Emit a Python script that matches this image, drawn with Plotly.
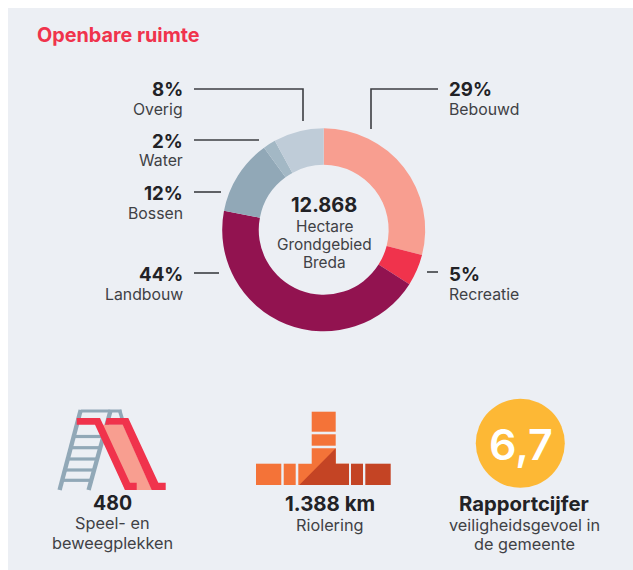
import plotly.graph_objects as go

W, H = 633, 570
FONT = "Inter"
DARK = "#222226"
GREY = "#3f4145"

categories = ["Bebouwd", "Recreatie", "Landbouw", "Bossen", "Water", "Overig"]
values = [29, 5, 44, 12, 2, 8]
slice_colors = ["#F89E90", "#F0334C", "#921350", "#91A8B7", "#A3B8C5", "#BFCCD8"]

title = "Openbare ruimte"
center_total = "12.868"
center_lines = ["Hectare", "Grondgebied", "Breda"]

fig = go.Figure()

CX, CY, R = 323.7, 229.8, 101.5
fig.add_trace(go.Pie(
    labels=categories, values=values, sort=False, direction="clockwise", rotation=0,
    hole=0.64, marker=dict(colors=slice_colors, line=dict(width=0)),
    textinfo="none", hoverinfo="label+percent", showlegend=False,
    domain=dict(x=[(CX - R) / W, (CX + R) / W], y=[1 - (CY + R) / H, 1 - (CY - R) / H]),
))

shapes = []
def rect(x0, y0, x1, y1, color, layer="below"):
    shapes.append(dict(type="rect", x0=x0, y0=y0, x1=x1, y1=y1, fillcolor=color,
                       line=dict(width=0), layer=layer))
def path(pts, color=None, stroke=None, width=0, closed=True):
    d = "M" + " L".join(f"{x},{y}" for x, y in pts) + (" Z" if closed else "")
    shapes.append(dict(type="path", path=d, fillcolor=color if color else "rgba(0,0,0,0)",
                       line=dict(color=stroke if stroke else "rgba(0,0,0,0)", width=width),
                       layer="above"))

# panel
rect(8, 8, 633, 570, "#ECEFF4")

# leader lines
LC = "#3c3e42"
for pts in [[(194, 89), (303, 89), (303, 121)],
            [(438, 89), (371, 89), (371, 129)],
            [(194, 140), (259, 140)],
            [(194, 192), (221, 192)],
            [(194, 273), (219, 273)],
            [(427, 272), (438, 272)]]:
    path(pts, stroke=LC, width=1.6, closed=False)

# ladder
LAD = "#91A8B7"
path([(80.7, 411), (121.5, 411)], stroke=LAD, width=3.2, closed=False)
path([(80.7, 410), (59.6, 490)], stroke=LAD, width=4.4, closed=False)
path([(110.7, 410), (88.6, 490)], stroke=LAD, width=4.4, closed=False)
path([(119.5, 410), (122.5, 420)], stroke=LAD, width=3.6, closed=False)
for y, x0, x1 in [(436.5, 73, 103), (447.7, 70, 100), (459, 67, 97), (470, 65, 94), (480.3, 62, 91)]:
    path([(x0, y), (x1, y)], stroke=LAD, width=3.2, closed=False)

# slide
path([(98, 424.7), (123, 424.7), (152, 490), (125, 490)], color="#F89E90")
RED = "#F0334C"
path([(76.7, 418), (100, 418), (130, 482.7), (136.7, 482.7), (136.7, 490), (125, 490),
      (95, 424.7), (76.7, 424.7)], color=RED)
path([(106.7, 418), (128.3, 418), (158.3, 482.7), (165.7, 482.7), (165.7, 490), (151.7, 490),
      (122.7, 424.7), (105, 424.7)], color=RED)

# pipe
OR, DK = "#F47338", "#C44424"
rect(311.7, 411.7, 335.7, 431.7, OR, "above")
rect(311.7, 434.3, 335.7, 445.7, OR, "above")
path([(311.7, 448.3), (335.7, 448.3), (335.7, 463.7), (349, 463.7), (349, 485),
      (298.3, 485), (298.3, 463.7), (311.7, 463.7)], color=OR)
path([(299.3, 485), (335.7, 448.3), (335.7, 463.7), (349, 463.7), (349, 485)], color=DK)
rect(256, 463.7, 281.3, 485, OR, "above")
rect(283.7, 463.7, 295.7, 485, OR, "above")
rect(351, 463.7, 363, 485, DK, "above")
rect(365.3, 463.7, 390.7, 485, DK, "above")

# badge
shapes.append(dict(type="circle", x0=475.8, x1=564.8, y0=398.8, y1=487.8,
                   fillcolor="#FDB835", line=dict(width=0), layer="above"))

anns = []
def txt(x, y, s, size, color=GREY, bold=False, anchor="center", weight=None):
    anns.append(dict(x=x, y=y, xref="x", yref="y", text=s, showarrow=False, xanchor=anchor,
                     yanchor="middle", xshift=0,
                     font=dict(family=FONT, size=size, color=color,
                               weight=weight if weight else (700 if bold else 400))))

txt(35, 35, title, 19.8, "#F0334C", anchor="left", weight=700)

for pct, name, yp, yn in [("8%", "Overig", 89, 109), ("2%", "Water", 141, 160),
                          ("12%", "Bossen", 193, 213), ("44%", "Landbouw", 274, 294)]:
    txt(185, yp, pct, 18.7, DARK, True, "right")
    txt(185, yn, name, 15.8, GREY, False, "right")
for pct, name, yp, yn in [("29%", "Bebouwd", 89, 109), ("5%", "Recreatie", 274, 294)]:
    txt(447, yp, pct, 18.7, DARK, True, "left")
    txt(447, yn, name, 15.8, GREY, False, "left")

txt(324, 205, center_total, 20, DARK, True)
for s, y in zip(center_lines, [226, 244, 262]):
    txt(324, y, s, 15.4)

txt(112, 503, "480", 19.5, DARK, True)
txt(112, 523, "Speel- en", 16.3)
txt(112, 542.5, "beweegplekken", 16.3)
txt(330, 503.5, "1.388 km", 20.4, DARK, True)
txt(330, 525, "Riolering", 16.3)
txt(524, 503.5, "Rapportcijfer", 20.3, DARK, True)
txt(524, 525, "veiligheidsgevoel in", 16.3)
txt(524, 544, "de gemeente", 16.3)
txt(520.5, 444, "6,7", 43, "#FFFFFF", anchor="center", weight=600)

fig.update_layout(
    width=W, height=H, margin=dict(l=0, r=0, t=0, b=0),
    paper_bgcolor="#FFFFFF", plot_bgcolor="rgba(0,0,0,0)",
    xaxis=dict(range=[0, W], visible=False, fixedrange=True),
    yaxis=dict(range=[H, 0], visible=False, fixedrange=True),
    shapes=shapes, annotations=anns,
)
fig.add_trace(go.Scatter(x=[0, W], y=[0, H], mode="markers", marker=dict(opacity=0),
                         showlegend=False, hoverinfo="skip"))
fig.write_html("out.html", config={"displayModeBar": False},
               post_script="document.body.style.margin='0';document.body.style.overflow='hidden';")
